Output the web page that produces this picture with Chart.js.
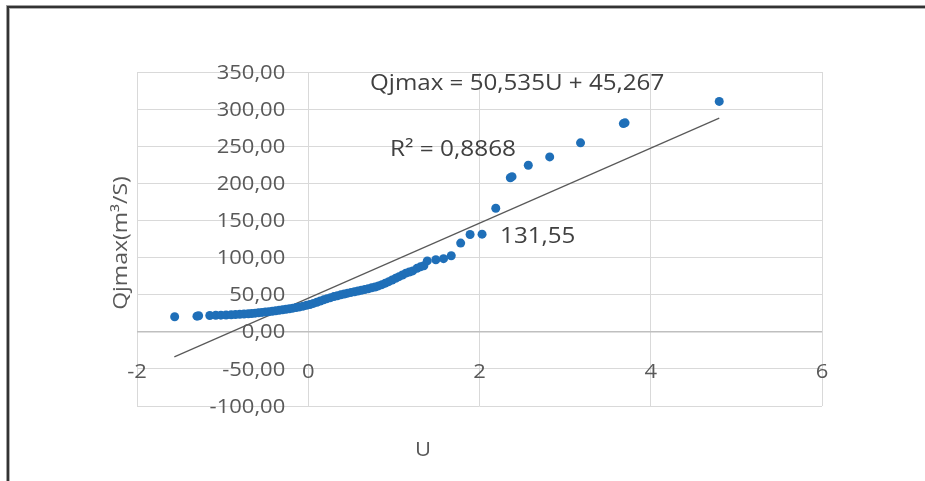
<!DOCTYPE html>
<html>
<head>
<meta charset="utf-8">
<script src="https://cdn.jsdelivr.net/npm/chart.js@4/dist/chart.umd.min.js"></script>
<style>
html,body{margin:0;padding:0;background:#fff;}
#wrap{position:relative;width:925px;height:481px;}
</style>
</head>
<body>
<div id="wrap"><canvas id="c" width="925" height="481"></canvas></div>
<script>
// ---- data ----
const uValues = [-1.56,-1.30,-1.28,-1.15,-1.08,-1.02,-0.96,-0.90,-0.85,-0.80,-0.75,-0.70,-0.66,-0.62,-0.58,-0.54,-0.50,-0.46,-0.42,-0.38,
  -0.34,-0.30,-0.26,-0.22,-0.18,-0.14,-0.10,-0.06,-0.02,0.02,0.06,0.10,0.14,0.18,0.22,0.26,0.30,0.34,0.38,0.42,
  0.46,0.50,0.54,0.58,0.62,0.66,0.70,0.74,0.78,0.82,0.86,0.90,0.94,0.98,1.02,1.06,1.10,1.14,1.18,1.22,
  1.27,1.31,1.35,1.39,1.49,1.58,1.67,1.78,1.89,2.03,2.19,2.36,2.38,2.57,2.82,3.18,3.68,3.70,4.80];
const qValues = [20.3,21.0,21.6,22.0,22.2,22.4,22.6,22.9,23.2,23.5,23.9,24.3,24.7,25.1,25.6,26.1,26.6,27.1,27.7,28.3,
  28.9,29.6,30.3,31.0,31.8,32.6,33.5,34.5,35.6,36.8,38.2,39.8,41.4,43.0,44.6,46.0,47.4,48.6,49.8,50.9,
  52.0,53.0,54.0,55.0,56.0,57.0,58.0,59.2,60.4,61.8,63.5,65.5,67.5,69.8,72.0,74.3,76.5,79.0,80.5,82.0,
  85.5,87.5,89.0,95.5,97.0,98.5,102.5,119.5,131.0,131.55,166.5,207.5,209.0,224.3,235.6,254.6,280.5,281.5,310.4];
const trendU = [-1.564, 4.80];
const trendQ = [-33.77, 287.84];
const xTicks = [-2, 0, 2, 4, 6];
const yTicks = [-100, -50, 0, 50, 100, 150, 200, 250, 300, 350];
const xTickLabels = ['-2', '0', '2', '4', '6'];
const yTickLabels = ['-100,00','-50,00','0,00','50,00','100,00','150,00','200,00','250,00','300,00','350,00'];
const equationText = 'Qjmax = 50,535U + 45,267';
const r2Text = 'R² = 0,8868';
const pointLabel = { u: 2.03, q: 131.55, text: '131,55' };
const xTitle = 'U';
const yTitle = 'Qjmax(m³/S)';

const points = uValues.map((u, i) => ({ x: u, y: qValues[i] }));
const trend = trendU.map((u, i) => ({ x: u, y: trendQ[i] }));

function txt(ctx, s, x, y, size, align, sx, color, rot) {
  ctx.save();
  ctx.translate(x, y);
  if (rot) ctx.rotate(rot);
  ctx.scale(sx, 1);
  ctx.font = size + 'px "Open Sans"';
  ctx.textAlign = align;
  ctx.textBaseline = 'middle';
  ctx.fillStyle = color;
  ctx.fillText(s, 0, 0);
  ctx.restore();
}

const deco = {
  id: 'deco',
  beforeDraw(chart) {
    const ctx = chart.ctx;
    ctx.save();
    ctx.fillStyle = '#fff';
    ctx.fillRect(0, 0, chart.width, chart.height);
    // page frame
    ctx.fillStyle = '#a0a0a0';
    ctx.fillRect(6, 5, chart.width, 1);
    ctx.fillRect(6, 5, 1, chart.height);
    ctx.fillStyle = '#333';
    ctx.fillRect(7, 6, chart.width, 2);
    ctx.fillRect(7, 6, 2, chart.height);
    ctx.fillStyle = '#b0b0b0';
    ctx.fillRect(9, 8, chart.width, 1);
    ctx.fillRect(9, 8, 1, chart.height);
    ctx.restore();
  },
  afterDraw(chart) {
    const ctx = chart.ctx;
    const xs = chart.scales.x, ys = chart.scales.y;
    const x0 = xs.getPixelForValue(0), y0 = ys.getPixelForValue(0);
    yTicks.forEach((v, i) => {
      txt(ctx, yTickLabels[i], x0 - 23, ys.getPixelForValue(v) + 1, 20, 'right', 1.1, '#595959');
    });
    xTicks.forEach((v, i) => {
      txt(ctx, xTickLabels[i], xs.getPixelForValue(v), y0 + 41, 20, 'center', 1.1, '#595959');
    });
    txt(ctx, equationText, 370, 84, 21, 'left', 1.15, '#404040');
    txt(ctx, r2Text, 390, 150, 21, 'left', 1.16, '#404040');
    txt(ctx, pointLabel.text, xs.getPixelForValue(pointLabel.u) + 18, ys.getPixelForValue(pointLabel.q) + 3, 21, 'left', 1.15, '#404040');
    txt(ctx, xTitle, 423, 450, 20, 'center', 1.1, '#595959');
    txt(ctx, yTitle, 121, 243, 20, 'center', 1.15, '#595959', -Math.PI / 2);
  }
};

new Chart(document.getElementById('c'), {
  type: 'scatter',
  data: {
    datasets: [
      {
        type: 'line',
        data: trend,
        borderColor: '#595959',
        borderWidth: 1.2,
        pointRadius: 0,
        fill: false,
        order: 2
      },
      {
        data: points,
        backgroundColor: '#1f6fb8',
        borderWidth: 0,
        pointRadius: 4.5,
        order: 1
      }
    ]
  },
  options: {
    responsive: false,
    animation: false,
    devicePixelRatio: 1,
    layout: { padding: { left: 137, right: 103, top: 72, bottom: 75 } },
    plugins: { legend: { display: false }, tooltip: { enabled: false } },
    scales: {
      x: {
        type: 'linear', min: -2, max: 6,
        afterBuildTicks: s => { s.ticks = xTicks.map(v => ({ value: v })); },
        ticks: { display: false },
        grid: { color: '#d9d9d9', lineWidth: 1, drawTicks: false },
        border: { display: false }
      },
      y: {
        type: 'linear', min: -100, max: 350,
        afterBuildTicks: s => { s.ticks = yTicks.map(v => ({ value: v })); },
        ticks: { display: false },
        grid: {
          color: c => c.tick && c.tick.value === 0 ? '#bfbfbf' : '#d9d9d9',
          lineWidth: c => c.tick && c.tick.value === 0 ? 1.5 : 1,
          drawTicks: false
        },
        border: { display: false }
      }
    }
  },
  plugins: [deco]
});
</script>
</body>
</html>
